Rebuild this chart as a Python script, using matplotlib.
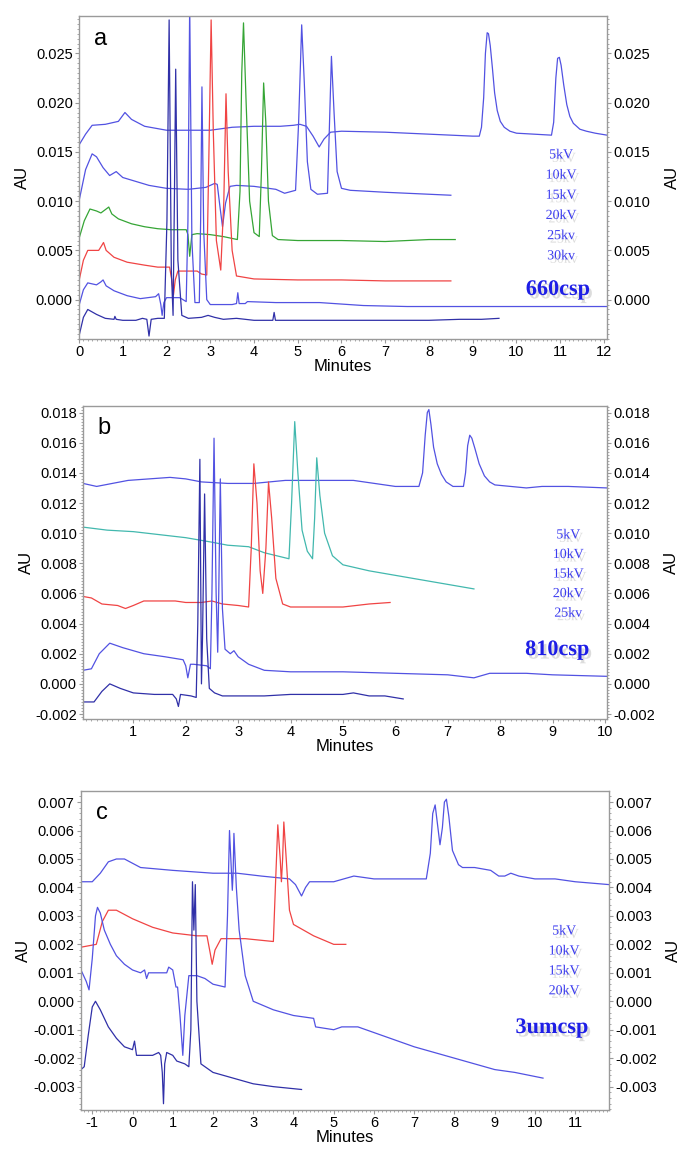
import numpy as np
import matplotlib
matplotlib.use("Agg")
import matplotlib.pyplot as plt
import matplotlib.patheffects as pe
from matplotlib.ticker import MultipleLocator, FormatStrFormatter, AutoMinorLocator

plt.rcParams['font.family'] = ['Liberation Sans', 'DejaVu Sans']
plt.rcParams['axes.unicode_minus'] = False

# ---- panel a : 660csp, one trace per voltage (time in min, signal in AU) ----
a_5kv_t = [0, 0.15, 0.3, 0.6, 0.9, 1.05, 1.2, 1.5, 2.0, 2.5, 3.0, 3.5, 4.0, 4.6, 4.9, 5.05, 5.2, 5.35, 5.49,
           5.6, 5.75, 6.0, 7.0, 8.0, 9.0, 9.15, 9.2, 9.25, 9.29, 9.33, 9.36, 9.40, 9.45, 9.5, 9.56, 9.63,
           9.72, 9.85, 10.0, 10.4, 10.8, 10.85, 10.9, 10.94, 10.98, 11.02, 11.08, 11.15, 11.22, 11.3,
           11.45, 11.6, 11.8, 12.07]
a_5kv_y = [0.0157, 0.0168, 0.0177, 0.0178, 0.0181, 0.0190, 0.0183, 0.0176, 0.0172, 0.0172, 0.0172, 0.0175,
           0.0176, 0.0176, 0.0177, 0.0178, 0.0176, 0.0166, 0.0155, 0.0163, 0.0170, 0.0171, 0.0170, 0.0168,
           0.0166, 0.0166, 0.0175, 0.0205, 0.0250, 0.0271, 0.0270, 0.0258, 0.0235, 0.0210, 0.0192, 0.0181,
           0.0175, 0.0171, 0.0169, 0.0168, 0.0167, 0.0180, 0.0225, 0.0245, 0.0246, 0.0238, 0.0218, 0.0198,
           0.0186, 0.0179, 0.0173, 0.0171, 0.0169, 0.0167]
a_10kv_t = [0, 0.15, 0.3, 0.4, 0.55, 0.7, 0.85, 1.0, 1.3, 1.6, 2.0, 2.5, 2.9, 3.1, 3.16, 3.22, 3.28, 3.35,
            3.45, 3.6, 4.0, 4.5, 4.7, 4.95, 5.02, 5.09, 5.15, 5.22, 5.3, 5.45, 5.68, 5.72, 5.77, 5.83, 5.9,
            6.0, 6.2, 7.0, 8.0, 8.5]
a_10kv_y = [0.0100, 0.0132, 0.0148, 0.0145, 0.0134, 0.0126, 0.0130, 0.0124, 0.0120, 0.0116, 0.0113, 0.0112,
            0.0114, 0.0118, 0.0117, 0.0095, 0.0074, 0.0098, 0.0115, 0.0116, 0.0115, 0.0112, 0.0108, 0.0111,
            0.0180, 0.0279, 0.0220, 0.0140, 0.0112, 0.0107, 0.0108, 0.0170, 0.0247, 0.0190, 0.0130, 0.0113,
            0.0111, 0.0109, 0.0107, 0.0106]
a_15kv_t = [0, 0.12, 0.25, 0.4, 0.5, 0.62, 0.68, 0.75, 0.9, 1.2, 1.5, 1.8, 2.1, 2.45, 2.49, 2.53, 2.58, 2.7,
            3.0, 3.3, 3.62, 3.68, 3.72, 3.76, 3.82, 3.9, 4.0, 4.12, 4.17, 4.22, 4.27, 4.33, 4.42, 4.55, 5.0,
            6.0, 7.0, 8.0, 8.6]
a_15kv_y = [0.0062, 0.0080, 0.0092, 0.0090, 0.0088, 0.0092, 0.0094, 0.0087, 0.0082, 0.0077, 0.0074, 0.0072,
            0.0071, 0.0071, 0.0066, 0.0044, 0.0066, 0.0067, 0.0066, 0.0064, 0.0061, 0.0110, 0.0230, 0.0281,
            0.0200, 0.0100, 0.0068, 0.0064, 0.0130, 0.0220, 0.0180, 0.0100, 0.0065, 0.0061, 0.0060, 0.0060,
            0.0059, 0.0061, 0.0061]
a_20kv_t = [0, 0.1, 0.2, 0.45, 0.52, 0.56, 0.62, 0.8, 1.1, 1.5, 1.8, 2.0, 2.07, 2.12, 2.16, 2.2, 2.26, 2.5,
            2.7, 2.8, 2.92, 2.97, 3.02, 3.07, 3.14, 3.24, 3.31, 3.36, 3.41, 3.5, 3.6, 4.0, 5.0, 6.0, 7.0, 8.5]
a_20kv_y = [0.0019, 0.0040, 0.0050, 0.0050, 0.0055, 0.0058, 0.0050, 0.0043, 0.0038, 0.0035, 0.0033, 0.0033,
            0.0033, 0.0020, 0.0005, 0.0020, 0.0029, 0.0029, 0.0029, 0.0026, 0.0025, 0.0150, 0.0284, 0.0170,
            0.0060, 0.0030, 0.0100, 0.0209, 0.0130, 0.0050, 0.0024, 0.0021, 0.0020, 0.0020, 0.0019, 0.0019]
a_25kv_t = [0, 0.1, 0.2, 0.4, 0.5, 0.55, 0.62, 0.8, 1.1, 1.4, 1.75, 1.82, 1.87, 1.9, 1.94, 2.0, 2.3, 2.45,
            2.49, 2.53, 2.58, 2.65, 2.75, 2.78, 2.81, 2.85, 2.92, 3.0, 3.5, 3.6, 3.63, 3.66, 3.8, 3.85, 4.5,
            5.5, 6.5, 7.5, 9.0, 10.5, 12.07]
a_25kv_y = [-0.0006, 0.0010, 0.0017, 0.0015, 0.0018, 0.0020, 0.0014, 0.0009, 0.0004, 0.0001, 0.0003, 0.0006,
            -0.0005, -0.0016, -0.0003, 0.0002, 0.0002, -0.0002, 0.0080, 0.0300, 0.0060, -0.0003, -0.0003,
            0.0080, 0.0216, 0.0070, 0.0000, -0.0005, -0.0005, -0.0004, 0.0007, -0.0004, -0.0004, -0.0002,
            -0.0003, -0.0003, -0.0006, -0.0007, -0.0007, -0.0007, -0.0007]
a_30kv_t = [0, 0.1, 0.2, 0.4, 0.6, 0.8, 0.82, 0.85, 1.0, 1.3, 1.45, 1.55, 1.6, 1.65, 1.8, 1.95, 2.01, 2.06,
            2.11, 2.15, 2.18, 2.21, 2.26, 2.35, 2.5, 2.8, 2.95, 3.1, 3.3, 3.6, 4.0, 4.43, 4.46, 4.49, 5.0,
            6.0, 7.0, 8.0, 8.7, 9.2, 9.6]
a_30kv_y = [-0.0037, -0.0018, -0.0010, -0.0015, -0.0019, -0.0020, -0.0017, -0.0020, -0.0021, -0.0021,
            -0.0019, -0.0020, -0.0037, -0.0020, -0.0019, -0.0019, 0.0080, 0.0284, 0.0030, -0.0016, 0.0100,
            0.0234, 0.0040, -0.0016, -0.0019, -0.0018, -0.0016, -0.0018, -0.0020, -0.0019, -0.0021, -0.0021,
            -0.0013, -0.0021, -0.0021, -0.0021, -0.0021, -0.0021, -0.0020, -0.0020, -0.0019]
a_labels = ["5kV", "10kV", "15kV", "20kV", "25kv", "30kv"]

# ---- panel b : 810csp ----
b_5kv_t = [0.04, 0.3, 0.6, 0.9, 1.3, 1.7, 2.0, 2.3, 2.8, 3.3, 3.6, 3.9, 4.5, 5.2, 5.6, 6.0, 6.45, 6.52, 6.57,
           6.61, 6.64, 6.68, 6.73, 6.8, 6.88, 6.97, 7.1, 7.3, 7.34, 7.38, 7.42, 7.46, 7.52, 7.6, 7.7, 7.8,
           7.9, 8.2, 8.5, 8.8, 9.3, 10.04]
b_5kv_y = [0.0133, 0.0131, 0.0133, 0.0135, 0.0136, 0.0137, 0.0136, 0.0134, 0.0133, 0.0133, 0.0134, 0.0135,
           0.0135, 0.0135, 0.0133, 0.0131, 0.0131, 0.0140, 0.0165, 0.0180, 0.0182, 0.0172, 0.0157, 0.0146,
           0.0139, 0.0134, 0.0131, 0.0131, 0.0140, 0.0158, 0.0165, 0.0163, 0.0156, 0.0146, 0.0138, 0.0134,
           0.0132, 0.0131, 0.0130, 0.0131, 0.0131, 0.0130]
b_10kv_t = [0.04, 0.5, 1.0, 1.5, 2.0, 2.5, 2.8, 3.2, 3.5, 3.97, 4.02, 4.08, 4.14, 4.22, 4.32, 4.42, 4.46,
            4.5, 4.56, 4.65, 4.8, 5.0, 5.5, 6.0, 6.5, 7.0, 7.5]
b_10kv_y = [0.0104, 0.0102, 0.0101, 0.0099, 0.0097, 0.0094, 0.0092, 0.0091, 0.0087, 0.0083, 0.0120, 0.0174,
            0.0140, 0.0102, 0.0088, 0.0083, 0.0110, 0.0150, 0.0125, 0.0100, 0.0085, 0.0079, 0.0075, 0.0072,
            0.0069, 0.0066, 0.0063]
b_15kv_t = [0.04, 0.2, 0.4, 0.7, 0.85, 1.0, 1.2, 1.5, 1.8, 2.0, 2.3, 2.5, 2.7, 3.0, 3.2, 3.25, 3.3, 3.36,
            3.42, 3.47, 3.53, 3.58, 3.64, 3.72, 3.85, 4.0, 4.5, 5.0, 5.5, 5.9]
b_15kv_y = [0.0058, 0.0057, 0.0053, 0.0052, 0.0050, 0.0052, 0.0055, 0.0055, 0.0055, 0.0054, 0.0054, 0.0055,
            0.0053, 0.0052, 0.0051, 0.0090, 0.0146, 0.0120, 0.0075, 0.0060, 0.0090, 0.0134, 0.0110, 0.0070,
            0.0053, 0.0051, 0.0051, 0.0051, 0.0053, 0.0054]
b_20kv_t = [0.04, 0.2, 0.35, 0.55, 0.8, 1.2, 1.6, 1.95, 2.0, 2.04, 2.09, 2.15, 2.4, 2.47, 2.5, 2.54, 2.58,
            2.61, 2.63, 2.66, 2.7, 2.75, 2.85, 2.92, 3.0, 3.2, 3.5, 4.0, 4.5, 5.0, 6.0, 7.0, 7.5, 7.8, 8.5,
            9.0, 10.04]
b_20kv_y = [0.0009, 0.0010, 0.0020, 0.0027, 0.0024, 0.0020, 0.0018, 0.0016, 0.0012, 0.0004, 0.0013, 0.0013,
            0.0012, 0.0010, 0.0060, 0.0163, 0.0060, 0.0021, 0.0060, 0.0136, 0.0050, 0.0023, 0.0020, 0.0022,
            0.0018, 0.0013, 0.0009, 0.0008, 0.0008, 0.0008, 0.0007, 0.0006, 0.0004, 0.0007, 0.0007, 0.0006,
            0.0005]
b_25kv_t = [0.04, 0.25, 0.4, 0.55, 0.75, 1.0, 1.4, 1.75, 1.82, 1.86, 1.9, 2.1, 2.2, 2.23, 2.27, 2.3, 2.32,
            2.36, 2.4, 2.45, 2.55, 2.7, 3.0, 3.5, 4.0, 5.0, 5.2, 5.5, 5.8, 6.15]
b_25kv_y = [-0.0012, -0.0012, -0.0005, 0.0000, -0.0003, -0.0006, -0.0007, -0.0007, -0.0010, -0.0015,
            -0.0007, -0.0008, -0.0009, 0.0040, 0.0149, 0.0000, 0.0030, 0.0126, 0.0030, -0.0003, -0.0006,
            -0.0008, -0.0008, -0.0008, -0.0007, -0.0007, -0.0006, -0.0008, -0.0008, -0.0010]
b_labels = ["5kV", "10kV", "15kV", "20kV", "25kv"]

# ---- panel c : 3umcsp ----
c_5kv_t = [-1.28, -1.0, -0.8, -0.6, -0.4, -0.2, 0.2, 1.0, 2.0, 2.6, 3.2, 3.9, 4.05, 4.2, 4.3, 4.4, 5.0, 5.5,
           6.0, 7.0, 7.3, 7.4, 7.46, 7.52, 7.58, 7.64, 7.7, 7.75, 7.8, 7.86, 7.95, 8.1, 8.2, 8.5, 8.9, 9.1,
           9.25, 9.4, 9.6, 10.0, 10.5, 11.0, 11.84]
c_5kv_y = [0.0042, 0.0042, 0.0045, 0.0049, 0.0050, 0.0050, 0.0047, 0.0046, 0.0045, 0.0045, 0.0044, 0.0043,
           0.0041, 0.0037, 0.0040, 0.0042, 0.0042, 0.0044, 0.0043, 0.0043, 0.0043, 0.0052, 0.0066, 0.0069,
           0.0062, 0.0055, 0.0061, 0.0070, 0.0071, 0.0065, 0.0053, 0.0048, 0.0047, 0.0047, 0.0046, 0.0044,
           0.0044, 0.0045, 0.0044, 0.0043, 0.0043, 0.0042, 0.0041]
c_10kv_t = [-1.28, -0.9, -0.75, -0.6, -0.4, 0.0, 0.5, 1.0, 1.6, 1.85, 1.93, 1.98, 2.05, 2.2, 2.8, 3.5, 3.55,
            3.61, 3.67, 3.7, 3.73, 3.76, 3.82, 3.9, 4.0, 4.5, 5.0, 5.3]
c_10kv_y = [0.0019, 0.0020, 0.0028, 0.0032, 0.0032, 0.0029, 0.0026, 0.0024, 0.0023, 0.0023, 0.0017, 0.0013,
            0.0018, 0.0022, 0.0022, 0.0021, 0.0040, 0.0062, 0.0050, 0.0042, 0.0050, 0.0063, 0.0050, 0.0032,
            0.0027, 0.0023, 0.0020, 0.0020]
c_15kv_t = [-1.28, -1.15, -1.08, -1.0, -0.92, -0.87, -0.8, -0.7, -0.55, -0.4, -0.2, 0.0, 0.2, 0.3, 0.35,
            0.4, 0.5, 0.85, 0.9, 1.0, 1.08, 1.12, 1.18, 1.25, 1.3, 1.4, 1.6, 1.8, 2.0, 2.3, 2.36, 2.41, 2.46,
            2.48, 2.5, 2.52, 2.58, 2.65, 2.8, 3.0, 3.5, 4.0, 4.5, 4.55, 5.0, 5.2, 5.6, 6.0, 7.0, 8.0, 9.0,
            9.5, 10.2]
c_15kv_y = [0.0011, 0.0007, 0.0004, 0.0015, 0.0030, 0.0033, 0.0031, 0.0025, 0.0020, 0.0016, 0.0013, 0.0011,
            0.0010, 0.0011, 0.0008, 0.0010, 0.0010, 0.0010, 0.0012, 0.0011, 0.0005, 0.0005, -0.0005, -0.0019,
            -0.0005, 0.0009, 0.0009, 0.0008, 0.0006, 0.0005, 0.0030, 0.0060, 0.0045, 0.0039, 0.0045, 0.0059,
            0.0040, 0.0025, 0.0009, 0.0000, -0.0003, -0.0005, -0.0006, -0.0009, -0.0010, -0.0009, -0.0009,
            -0.0011, -0.0016, -0.0020, -0.0024, -0.0025, -0.0027]
c_20kv_t = [-1.28, -1.2, -1.1, -1.0, -0.92, -0.8, -0.6, -0.4, -0.2, 0.0, 0.05, 0.1, 0.5, 0.65, 0.7, 0.74,
            0.77, 0.8, 0.85, 1.0, 1.1, 1.3, 1.4, 1.45, 1.49, 1.525, 1.56, 1.6, 1.7, 2.0, 2.5, 3.0, 3.5, 4.2]
c_20kv_y = [-0.0024, -0.0023, -0.0012, -0.0002, 0.0000, -0.0003, -0.0009, -0.0013, -0.0016, -0.0017,
            -0.0014, -0.0019, -0.0019, -0.0018, -0.0019, -0.0025, -0.0036, -0.0022, -0.0018, -0.0019,
            -0.0021, -0.0022, -0.0023, -0.0010, 0.0042, 0.0025, 0.0041, 0.0000, -0.0022, -0.0025, -0.0027,
            -0.0029, -0.0030, -0.0031]
c_labels = ["5kV", "10kV", "15kV", "20kV"]

BLUE = '#5252e2'
NAVY = '#3030a8'
GREEN = '#35a535'
RED = '#f04444'
TEAL = '#42b8ae'
FRAME = '#9a9a9a'
LABEL_BLUE = '#3c3cf0'


def draw_panel(ax, traces, xlim, ylim, xticks, ystep, yminor, letter, labels, label_pos, csp, csp_pos):
    for t, y, color in traces:
        ax.plot(t, y, color=color, lw=0.9)
    ax.set_xlim(*xlim)
    ax.set_ylim(*ylim)
    ax.set_xticks(xticks)
    ax.xaxis.set_minor_locator(MultipleLocator(0.1))
    ax.yaxis.set_major_locator(MultipleLocator(ystep))
    ax.yaxis.set_minor_locator(AutoMinorLocator(yminor))
    ax.yaxis.set_major_formatter(FormatStrFormatter('%.3f'))
    ax.tick_params(which='both', direction='out', color=FRAME, labelsize=10.5,
                   left=True, right=True, labelleft=True, labelright=True, top=False)
    ax.tick_params(which='major', length=3, pad=1.5)
    ax.tick_params(which='minor', length=1.5)
    for s in ax.spines.values():
        s.set_color(FRAME)
        s.set_linewidth(1.0)
    ax.set_xlabel("Minutes", fontsize=12, labelpad=0)
    ax.text(-0.108, 0.5, "AU", transform=ax.transAxes, rotation=90, fontsize=12,
            ha='center', va='center')
    ax.text(1.123, 0.5, "AU", transform=ax.transAxes, rotation=90, fontsize=12,
            ha='center', va='center')
    ax.text(0.04, 0.93, letter, transform=ax.transAxes, fontsize=17, ha='center', va='center')

    # voltage list and column name, in serif with a soft shadow
    shadow = [pe.withSimplePatchShadow(offset=(2, -2.5), shadow_rgbFace='#777777', alpha=0.25)]
    lx, ly = label_pos
    for i, lab in enumerate(labels):
        ax.text(lx, ly - i * 0.0625, lab, transform=ax.transAxes, color=LABEL_BLUE,
                family=['Liberation Serif'], fontsize=10, ha='center', va='center',
                path_effects=shadow)
    ax.text(csp_pos[0], csp_pos[1], csp, transform=ax.transAxes, color='#1e1ee6',
            family=['Liberation Serif'], fontsize=16, fontweight='bold', ha='center', va='center',
            path_effects=shadow)


def main():
    fig = plt.figure(figsize=(6.8, 11.5), dpi=100)

    ax_a = fig.add_axes([0.1162, 0.7052, 0.7765, 0.2809])
    draw_panel(ax_a,
               [(a_5kv_t, a_5kv_y, BLUE), (a_10kv_t, a_10kv_y, BLUE), (a_15kv_t, a_15kv_y, GREEN),
                (a_20kv_t, a_20kv_y, RED), (a_25kv_t, a_25kv_y, BLUE), (a_30kv_t, a_30kv_y, NAVY)],
               (0, 12.07), (-0.0040, 0.0288), range(0, 13), 0.005, 10,
               "a", a_labels, (0.913, 0.570), "660csp", (0.907, 0.152))

    ax_b = fig.add_axes([0.1221, 0.3748, 0.7706, 0.2722])
    draw_panel(ax_b,
               [(b_5kv_t, b_5kv_y, BLUE), (b_10kv_t, b_10kv_y, TEAL), (b_15kv_t, b_15kv_y, RED),
                (b_20kv_t, b_20kv_y, BLUE), (b_25kv_t, b_25kv_y, NAVY)],
               (0.04, 10.04), (-0.00233, 0.01844), range(1, 11), 0.002, 10,
               "b", b_labels, (0.926, 0.588), "810csp", (0.905, 0.22))

    ax_c = fig.add_axes([0.1191, 0.0348, 0.7765, 0.2774])
    draw_panel(ax_c,
               [(c_5kv_t, c_5kv_y, BLUE), (c_10kv_t, c_10kv_y, RED), (c_15kv_t, c_15kv_y, BLUE),
                (c_20kv_t, c_20kv_y, NAVY)],
               (-1.28, 11.84), (-0.00382, 0.00739), range(-1, 12), 0.001, 5,
               "c", c_labels, (0.915, 0.561), "3umcsp", (0.892, 0.257))

    fig.savefig("out.png", dpi=100)


if __name__ == "__main__":
    main()
